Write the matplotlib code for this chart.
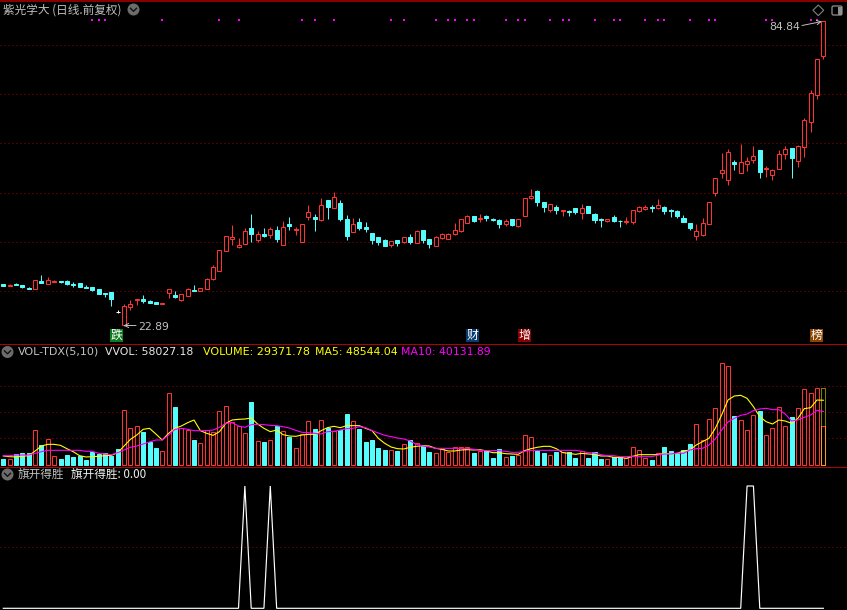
import matplotlib
matplotlib.use("Agg")
import matplotlib.pyplot as plt
from matplotlib.patches import Circle, Rectangle, Polygon, FancyBboxPatch

opens = [31.42,31.08,31.49,31.21,30.6,30.47,32.03,31.49,31.89,31.96,
31.96,31.49,31.62,30.81,30.81,30.4,29.59,29.79,25.66,23.02,
26.81,28.1,28.37,27.9,27.76,27.29,29.66,29.18,28.24,29.05,
30.2,30.06,30.47,32.5,34.13,38.19,40.62,39.0,39.61,42.79,
40.42,41.57,41.44,42.39,
39.41,43.6,42.32,40.01,45.09,45.02,44.41,48.48,46.92,47.87,
44.62,42.05,44.01,42.99,41.77,40.96,40.35,39.41,40.35,40.01,
40.96,39.81,42.38,40.56,39.2,40.76,40.62,41.64,42.25,43.87,
45.23,44.69,45.16,44.62,44.41,43.67,44.62,43.26,45.3,48.95,
50.3,48.07,46.51,47.06,
46.18,46.31,46.79,45.77,47.26,45.64,44.55,44.28,44.96,44.28,
44.08,44.08,46.31,46.72,47.06,46.92,46.99,46.38,46.25,44.82,
43.81,41.24,41.37,43.67,49.97,54.03,52.61,56.2,54.03,55.86,
56.67,58.64,54.71,53.63,54.84,57.89,59.04,56.47,59.31,64.39,
69.87,77.79]
closes = [31.01,31.28,31.28,30.81,30.4,32.16,31.69,32.16,32.09,31.82,
31.49,31.28,30.88,30.67,30.27,29.45,29.39,28.37,25.66,26.95,
27.29,28.37,28.03,27.63,27.42,27.49,30.33,28.85,29.32,30.4,
30.06,30.54,32.37,34.8,38.26,41.1,40.9,39.27,42.11,41.57,
41.5,41.23,42.52,40.56,
42.93,43.26,42.52,43.53,45.97,44.69,47.39,47.06,49.02,44.62,
41.17,43.53,42.79,42.65,40.35,39.95,39.13,40.08,39.74,40.89,
39.95,42.18,40.35,39.54,40.96,41.5,41.5,42.32,44.55,45.23,
44.21,44.82,44.82,44.48,43.6,44.21,43.4,44.55,48.88,49.29,
48.07,47.06,47.66,46.45,
46.38,46.11,46.11,46.79,45.84,44.42,44.42,44.55,44.21,44.15,
44.21,46.38,47.06,46.99,46.92,47.4,46.25,46.18,45.23,44.01,
42.79,42.12,43.74,48.01,52.88,54.5,58.16,55.79,56.13,56.33,
57.35,54.17,54.98,54.5,57.75,58.77,57.01,59.38,64.66,70.14,
77.05,84.77]
highs = [31.42,31.42,31.69,31.21,30.81,32.23,33.25,32.84,32.3,31.96,
32.23,31.76,31.62,31.21,30.81,30.4,29.59,29.79,26.14,27.29,
28.1,28.37,29.18,28.17,27.76,27.49,30.4,30.0,29.39,30.6,
31.15,30.54,32.64,35.21,38.26,41.1,43.4,40.76,42.79,45.63,
42.18,42.79,43.0,43.2,
44.21,45.02,42.99,43.53,47.46,45.63,48.88,48.48,50.03,48.48,
45.43,44.82,44.82,44.01,41.77,40.96,40.56,40.15,40.35,40.96,
41.57,42.38,42.38,40.56,41.17,41.77,41.77,43.81,44.62,45.43,
45.23,45.63,45.43,44.82,44.62,44.62,44.62,44.62,48.88,50.71,
50.51,48.07,47.66,47.46,
46.38,46.45,46.79,47.67,47.26,45.77,44.82,44.55,45.43,44.42,
45.03,46.45,47.26,47.46,47.46,48.68,47.26,46.65,46.45,45.43,
43.81,43.61,44.82,48.01,52.95,58.03,58.84,56.6,59.85,57.21,
59.45,58.64,55.39,54.78,58.64,59.45,59.04,59.65,65.13,70.82,
77.05,84.84]
lows = [31.01,31.01,31.15,30.6,30.4,30.4,31.55,31.42,31.82,31.62,
31.21,30.88,30.81,30.6,30.06,29.39,28.78,26.95,25.53,22.89,
26.2,27.15,27.63,27.49,27.42,27.29,28.64,28.57,28.03,28.98,
30.0,30.0,30.4,32.23,34.06,38.12,39.41,38.73,39.61,39.95,
40.02,40.96,40.83,39.95,
39.41,42.38,41.37,40.01,44.48,42.18,44.21,44.62,46.85,44.21,
40.35,41.98,42.38,41.98,39.54,39.34,39.13,38.93,39.13,39.74,
39.54,39.74,39.74,38.73,39.13,40.56,40.56,41.37,41.98,43.81,
44.01,44.01,44.21,44.21,42.79,43.2,43.2,42.99,45.3,48.68,
47.26,46.04,46.04,45.63,
45.23,45.23,45.7,44.62,45.84,43.81,43.0,44.08,44.01,43.0,
43.61,43.61,46.04,46.45,46.04,46.65,45.64,45.03,44.82,44.01,
42.39,40.36,41.17,43.67,49.29,52.95,51.53,54.57,53.96,54.37,
56.0,52.95,53.15,52.54,54.78,56.81,52.95,55.18,57.21,62.29,
68.99,77.12]
signal_days = [14,15,16,25,34,37,47,49,52,61,63,68,70,71,73,74,79,81,82,86,88,89,
               93,96,97,101,103,104,108,111,112,120,121,127,128]
price_grid = [30, 40, 50, 60, 70, 80]

# volumes in hundreds of lots
volumes = [45,45,82.5,90,90,262.5,150,195,67.5,45,75,60,67.5,37.5,97.5,82.5,90,67.5,120,412.5,
277.5,292.5,247.5,172.5,127.5,105,540,435,277.5,262.5,187.5,165,262.5,247.5,405,442.5,322.5,292.5,240,472.5,
180,172.5,187.5,292.5,
255,210,127.5,232.5,330,270,337.5,277.5,255,262.5,382.5,330,270,172.5,187.5,127.5,112.5,112.5,105,157.5,
187.5,165,142.5,97.5,90,120,97.5,135,135,135,90,105,105,52.5,120,60,67.5,75,225,210,105,90,75,97.5,
97.5,97.5,52.5,105,52.5,97.5,45,45,60,60,52.5,135,112.5,52.5,37.5,90,135,105,90,112.5,
157.5,307.5,187.5,345,427.5,765,742.5,367.5,337.5,262.5,375,405,225,277.5,435,292.5,360,427.5,570,540,
577.5,293.7]
wvol_last = 580.27
ma5 = [67.5,62.5,60,65,70,105,142.5,155,155,147.5,122.5,100,70,60,62.5,65,70,72.5,92.5,142.5,
192.5,225,267.5,275,232.5,187.5,237.5,275,292.5,317.5,337.5,257.5,237.5,222.5,250,312.5,337.5,342.5,345,352.5,
307.5,275,250,262.5,
227.5,217.5,215,225,230,230,257.5,280,290,280,295,295,295,275,257.5,200,162.5,135,122.5,120,
132.5,140,145,142.5,125,117.5,105,105,112.5,115,112.5,115,105,92.5,92.5,85,82.5,80,107.5,122.5,132.5,140,140,122.5,
92.5,87.5,80,87.5,82.5,80,67.5,67.5,57.5,57.5,50,65,77.5,77.5,77.5,77.5,87.5,82.5,87.5,105,
112.5,150,175,200,275,375,487.5,517.5,522.5,500,437.5,362.5,325,307.5,337.5,330,312.5,350,422.5,430,
487.5,485.44]
ma10 = [70,70,75,75,75,87.5,100,110,110,110,110,110,110,102.5,102.5,87.5,82.5,77.5,92.5,112.5,
132.5,142.5,157.5,172.5,187.5,187.5,225,267.5,275,267.5,257.5,257.5,257.5,262.5,282.5,312.5,317.5,292.5,282.5,302.5,
305,302.5,297.5,295,
287.5,277.5,260,245,242.5,237.5,232.5,250,252.5,262.5,272.5,275,287.5,280,257.5,240,222.5,212.5,202.5,195,
180,155,142.5,135,125,125,125,125,125,125,117.5,110,107.5,107.5,107.5,102.5,95,95,102.5,110,110,110,110,110,
110,110,110,102.5,92.5,90,77.5,70,70,62.5,62.5,65,62.5,62.5,62.5,75,82.5,82.5,90,87.5,
112.5,122.5,125,150,195,262.5,322.5,350,372.5,382.5,407.5,420,425,415,415,382.5,330,337.5,357.5,375,
410,401.32]
volume_grid = [200, 395, 590]

signal = [0.0] * 130
signal_peaks = [38, 42, 117, 118]
for p in signal_peaks:
    signal[p] = 1.0

W, H = 847, 610
RED, CYAN = "#ff3232", "#54fcfc"
GRID, FRAME = "#a00000", "#b00000"
GREY, LW = "#c0c0c0", 0.72
CJK = ["Noto Sans CJK SC", "DejaVu Sans"]
days = list(range(len(opens)))
XLIM = ((0 - 3.3) / 6.357, (W - 3.3) / 6.357)

fig = plt.figure(figsize=(W / 100, H / 100), dpi=100, facecolor="black")


def pane(top, bottom, ylim):
    ax = fig.add_axes([0, 1 - bottom / H, 1, (bottom - top) / H], facecolor="black")
    ax.set_xlim(*XLIM)
    ax.set_ylim(*ylim)
    ax.axis("off")
    return ax


def grid(ax, levels):
    for v in levels:
        ax.axhline(v, color=GRID, lw=LW, ls=(0, (1, 3)), zorder=1, snap=True)


# ---- price pane
ax1 = pane(0, 343, (19.44, 89.1))
grid(ax1, price_grid)
up = [c > o for o, c in zip(opens, closes)]
flat = [c == o for o, c in zip(opens, closes)]
wick_col = ["white" if f else (RED if u else CYAN) for u, f in zip(up, flat)]
ax1.vlines(days, lows, highs, colors=wick_col, lw=LW, zorder=2, snap=True)
for i in days:
    lo, hi = min(opens[i], closes[i]), max(opens[i], closes[i])
    face = "black" if up[i] else wick_col[i]
    ax1.bar(i, hi - lo, bottom=lo, width=0.63, facecolor=face, edgecolor=wick_col[i],
            lw=LW, zorder=3, snap=True)
ax1.plot(signal_days, [85.04] * len(signal_days), ls="none", marker="s", ms=1.5, mew=0,
         color="#ff00ff", zorder=4)

# ---- volume pane
ax2 = pane(343, 466, (-7.5, 915))
grid(ax2, volume_grid)
for i in days:
    c = RED if up[i] else CYAN
    ax2.bar(i, volumes[i], width=0.63, facecolor="black" if up[i] else c, edgecolor=c,
            lw=LW, zorder=2, snap=True)
ax2.bar(days[-1], wvol_last, width=0.63, facecolor="none", edgecolor="#ffff00", lw=LW,
        ls=(0, (1, 1)), zorder=2, snap=True)
ax2.plot(days, ma5, color="#ffff00", lw=0.8, zorder=3, solid_joinstyle="miter")
ax2.plot(days, ma10, color="#ff00ff", lw=0.8, zorder=4, solid_joinstyle="miter")

# ---- signal pane
ax3 = pane(466, 610, (-0.0139, 1.1635))
grid(ax3, [0.5])
ax3.plot(days, signal, color="white", lw=0.85, zorder=3, solid_joinstyle="miter")

# ---- overlay with header texts, tags and frame
ov = fig.add_axes([0, 0, 1, 1], facecolor="none")
ov.set_xlim(0, W)
ov.set_ylim(H, 0)
ov.axis("off")
for y in (343.5, 466.5):
    ov.plot([0, W], [y, y], color=FRAME, lw=LW, snap=True)
ov.plot([0, W], [0.6, 0.6], color=FRAME, lw=1.1, snap=True)
ov.plot([846.5, 846.5], [0, 610], color=FRAME, lw=LW, snap=True)


def chevron(x, y):
    ov.add_patch(Circle((x, y), 6, facecolor="#6c6c6c", edgecolor="none"))
    ov.plot([x - 3, x, x + 3], [y - 1.2, y + 1.8, y - 1.2], color="#111111", lw=1.0)


chevron(133.5, 9.5)
chevron(7.5, 352)
chevron(7.5, 474.5)


def label(x, y, s, color=GREY, size=8.7, family=None):
    ov.text(x, y, s, color=color, fontsize=size, va="center", ha="left",
            family=family or ["DejaVu Sans"])


label(3, 10, "紫光学大 (日线.前复权)", family=CJK, size=8.4)
label(18, 352, "VOL-TDX(5,10)", size=8.0)
label(105, 352, "VVOL: 58027.18", color="#e8e8e8", size=7.8)
label(203, 352, "VOLUME: 29371.78", color="#ffff00", size=8.0)
label(315, 352, "MA5: 48544.04", color="#ffff00", size=7.8)
label(401, 352, "MA10: 40131.89", color="#ff00ff", size=7.8)
label(18, 474.5, "旗开得胜", family=CJK, size=8.4)
label(71, 474.5, "旗开得胜: 0.00", color="#f0f0f0", family=CJK, size=8.4)

label(138, 327, "22.89", size=7.8)
label(769, 27, "84.84", size=7.8)
ov.annotate("", xy=(123.5, 325.5), xytext=(136, 325.5),
            arrowprops=dict(arrowstyle="->,head_width=0.15,head_length=0.3", color=GREY, lw=0.7,
                            shrinkA=0, shrinkB=0))
ov.annotate("", xy=(822, 21.5), xytext=(802, 25.5),
            arrowprops=dict(arrowstyle="->,head_width=0.15,head_length=0.3", color=GREY, lw=0.7,
                            shrinkA=0, shrinkB=0))

for x, s, col in [(110, "跌", "#0c7a1e"), (466, "财", "#0a3a6e"), (517.5, "增", "#8b0000"),
                  (810, "榜", "#8b4500")]:
    ov.add_patch(Rectangle((x, 329), 13, 13, facecolor=col, edgecolor="none"))
    ov.text(x + 6.5, 335.3, s, color="white", fontsize=8.6, ha="center", va="center", family=CJK)

ov.add_patch(Polygon([(818.3, 5), (823.7, 10.3), (818.3, 15.6), (812.9, 10.3)], closed=True,
                     facecolor="none", edgecolor="#808080", lw=0.8))
ov.add_patch(FancyBboxPatch((832, 6), 10, 9, boxstyle="round,pad=0,rounding_size=1.5",
                            facecolor="none", edgecolor="#909090", lw=0.9))
ov.add_patch(Rectangle((837.5, 6.5), 4.2, 8, facecolor="#909090", edgecolor="none"))

fig.savefig("out.png", dpi=100, facecolor="black")
